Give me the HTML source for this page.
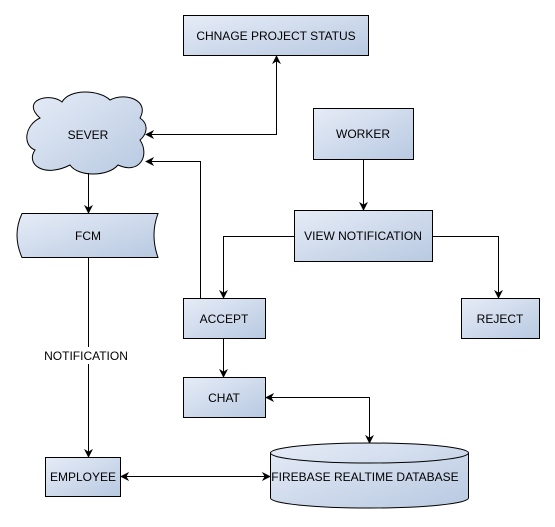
<!DOCTYPE html>
<html><head><style>body{margin:0;background:#fff}svg{display:block}text{font-family:"Liberation Sans",sans-serif;font-size:12px;fill:#000}</style></head>
<body>
<svg width="555" height="527" viewBox="0 0 555 527" xmlns="http://www.w3.org/2000/svg">
<defs>
<linearGradient id="g" x1="0" y1="0" x2="1" y2="1"><stop offset="0" stop-color="#e6ecf7"/><stop offset="1" stop-color="#b8c9e1"/></linearGradient>
<marker id="a" viewBox="0 0 10 10" refX="9" refY="5" markerWidth="9" markerHeight="9" orient="auto-start-reverse" markerUnits="userSpaceOnUse"><path d="M0,0 L10,5 L0,10 L3,5 Z" fill="#000"/></marker>
</defs>
<g stroke="#000" stroke-width="1" fill="url(#g)">
<rect x="183.5" y="15.5" width="185" height="40"/>
<rect x="313.5" y="108.5" width="100" height="51"/>
<rect x="294.5" y="210.5" width="138" height="51"/>
<rect x="183.5" y="298.5" width="82" height="40"/>
<rect x="461.5" y="298.5" width="78" height="40"/>
<rect x="183.5" y="377.5" width="82" height="40"/>
<rect x="45.5" y="457.5" width="75" height="39"/>
<path d="M22,213.5 H158 Q150,235 158,257.5 H22 Q12,235 22,213.5 Z"/>
<path d="M40,118 C20,100 50,92 62,102 C70,88 100,90 110,100 C125,92 150,100 140,118 C150,125 146,135 140,140 C150,155 140,175 118,165 C108,177 78,177 70,165 C45,178 25,165 35,150 C22,145 25,125 40,118 Z"/>
<path d="M270.5,453 A99,10 0 0 1 468.5,453 V498 A99,10 0 0 1 270.5,498 Z"/>
<path d="M270.5,453 A99,10 0 0 0 468.5,453" fill="none"/>
</g>
<g stroke="#000" stroke-width="1" fill="none">
<path d="M146,134.5 H276.5 V56" marker-start="url(#a)" marker-end="url(#a)"/>
<path d="M200.5,298 V161.5 H146" marker-end="url(#a)"/>
<path d="M88.5,173 V213" marker-end="url(#a)"/>
<path d="M88.5,258 V347 M88.5,364 V457" />
<path d="M88.5,440 V457" marker-end="url(#a)"/>
<path d="M363.5,160 V210" marker-end="url(#a)"/>
<path d="M294,236.5 H223.5 V298" marker-end="url(#a)"/>
<path d="M433,236.5 H498.5 V298" marker-end="url(#a)"/>
<path d="M223.5,339 V377" marker-end="url(#a)"/>
<path d="M266,397.5 H369.5 V443" marker-start="url(#a)" marker-end="url(#a)"/>
<path d="M121,476.5 H270" marker-start="url(#a)" marker-end="url(#a)"/>
</g>
<g text-anchor="middle">
<text x="276" y="40">CHNAGE PROJECT STATUS</text>
<text x="88" y="139">SEVER</text>
<text x="88" y="240">FCM</text>
<text x="363" y="138">WORKER</text>
<text x="363" y="240">VIEW NOTIFICATION</text>
<text x="224" y="323">ACCEPT</text>
<text x="500" y="323">REJECT</text>
<text x="224" y="402">CHAT</text>
<text x="83" y="481">EMPLOYEE</text>
<text x="86" y="360">NOTIFICATION</text>
<text x="365" y="481">FIREBASE REALTIME DATABASE</text>
</g>
</svg>
</body></html>
